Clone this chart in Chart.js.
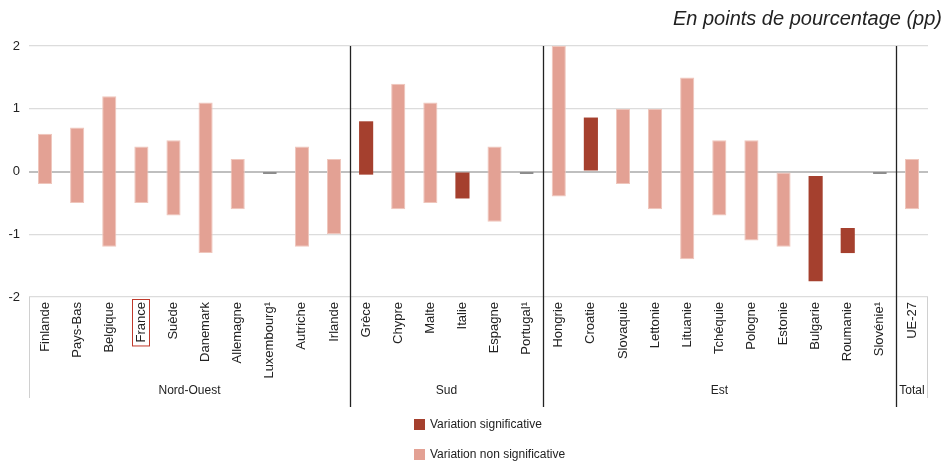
<!DOCTYPE html>
<html>
<head>
<meta charset="utf-8">
<script src="https://cdn.jsdelivr.net/npm/chart.js@4"></script>
<style>
  body { margin: 0; background: #fff; }
  #wrap { width: 946px; height: 463px; }
</style>
</head>
<body>
<div id="wrap"><canvas id="chart"></canvas></div>
<script>
// pays, dans l'ordre du graphique
const categories = ['Finlande', 'Pays-Bas', 'Belgique', 'France', 'Suède', 'Danemark', 'Allemagne', 'Luxembourg¹', 'Autriche', 'Irlande',
  'Grèce', 'Chypre', 'Malte', 'Italie', 'Espagne', 'Portugal¹',
  'Hongrie', 'Croatie', 'Slovaquie', 'Lettonie', 'Lituanie', 'Tchéquie', 'Pologne', 'Estonie', 'Bulgarie', 'Roumanie', 'Slovénie¹',
  'UE-27'];
const groupLabels = ['Nord-Ouest', 'Sud', 'Est', 'Total'];
const groupSizes = [10, 6, 11, 1];

// bornes basse / haute de l'intervalle (pp), null = non disponible
const low  = [-0.2, -0.5, -1.2, -0.5, -0.7, -1.3, -0.6, null, -1.2, -1.0,
  -0.05, -0.6, -0.5, -0.43, -0.8, null,
  -0.4, 0, -0.2, -0.6, -1.4, -0.7, -1.1, -1.2, -1.75, -1.3, null,
  -0.6];
const high = [0.6, 0.7, 1.2, 0.4, 0.5, 1.1, 0.2, null, 0.4, 0.2,
  0.8, 1.4, 1.1, 0, 0.4, null,
  2.0, 0.86, 1.0, 1.0, 1.5, 0.5, 0.5, 0, -0.07, -0.9, null,
  0.2];
const significant = [false, false, false, false, false, false, false, false, false, false,
  true, false, false, true, false, false,
  false, true, false, false, false, false, false, false, true, true, false,
  false];
const yTicks = [-2, -1, 0, 1, 2];

const darkRed = '#a5402e';
const lightRed = '#e3a194';

const sigData = categories.map((c, i) => (high[i] !== null && significant[i]) ? [low[i], high[i]] : null);
const nonSigData = categories.map((c, i) => (high[i] !== null && !significant[i]) ? [low[i], high[i]] : null);
const ndData = categories.map((c, i) => high[i] === null ? [-0.035, 0] : null);

const font = 'Liberation Sans, Arial, sans-serif';

const decorPlugin = {
  id: 'decor',
  afterDraw(chart) {
    const ctx = chart.ctx;
    const x = chart.scales.x;
    const area = chart.chartArea;
    const half = (x.getPixelForValue(1) - x.getPixelForValue(0)) / 2;
    ctx.save();

    // titre
    ctx.font = 'italic 20px ' + font;
    ctx.fillStyle = '#222';
    ctx.textAlign = 'right';
    ctx.textBaseline = 'middle';
    ctx.fillText('En points de pourcentage (pp)', 942, 19);

    // cadre des étiquettes
    ctx.strokeStyle = '#d0d0d0';
    ctx.lineWidth = 1;
    ctx.beginPath();
    ctx.moveTo(area.left + 0.5, area.bottom);
    ctx.lineTo(area.left + 0.5, 398);
    ctx.moveTo(area.right - 0.5, area.bottom);
    ctx.lineTo(area.right - 0.5, 398);
    ctx.stroke();

    // séparateurs et noms des groupes
    let start = 0;
    ctx.font = '12px ' + font;
    ctx.fillStyle = '#222';
    ctx.textAlign = 'center';
    groupSizes.forEach((n, g) => {
      const left = x.getPixelForValue(start) - half;
      const right = x.getPixelForValue(start + n - 1) + half;
      ctx.fillText(groupLabels[g], (left + right) / 2, 391);
      if (g < groupSizes.length - 1) {
        ctx.strokeStyle = '#222';
        ctx.lineWidth = 1.3;
        ctx.beginPath();
        ctx.moveTo(Math.round(right) + 0.5, area.top);
        ctx.lineTo(Math.round(right) + 0.5, 407);
        ctx.stroke();
      }
      start += n;
    });

    // encadré France
    const fi = categories.indexOf('France');
    const fx = x.getPixelForValue(fi);
    ctx.font = '13px ' + font;
    const w = ctx.measureText('France').width;
    ctx.strokeStyle = '#c0392b';
    ctx.lineWidth = 1;
    ctx.strokeRect(Math.round(fx - 9) + 0.5, area.bottom + 2.5, 17, w + 6);

    // légende
    const items = [[darkRed, 'Variation significative', 425], [lightRed, 'Variation non significative', 455]];
    ctx.textAlign = 'left';
    ctx.textBaseline = 'middle';
    items.forEach(([col, txt, y]) => {
      ctx.fillStyle = col;
      ctx.fillRect(414, y - 6, 11, 11);
      ctx.fillStyle = '#222';
      ctx.font = '12px ' + font;
      ctx.fillText(txt, 430, y);
    });
    ctx.restore();
  }
};

new Chart(document.getElementById('chart'), {
  type: 'bar',
  data: {
    labels: categories,
    datasets: [
      { label: 'Variation significative', data: sigData, backgroundColor: darkRed, grouped: false,
        barPercentage: 0.44, categoryPercentage: 1 },
      { label: 'Variation non significative', data: nonSigData, backgroundColor: lightRed, grouped: false,
        borderColor: '#efc6bc', borderWidth: 1, borderSkipped: false,
        barPercentage: 0.44, categoryPercentage: 1 },
      { label: 'nd', data: ndData, backgroundColor: '#5a5a5a', grouped: false,
        barPercentage: 0.42, categoryPercentage: 1 }
    ]
  },
  options: {
    responsive: true,
    maintainAspectRatio: false,
    animation: false,
    layout: { padding: { top: 46, right: 18, left: 0, bottom: 0 } },
    plugins: {
      legend: { display: false },
      tooltip: { enabled: false }
    },
    scales: {
      x: {
        grid: { display: false, drawTicks: false },
        border: { display: false },
        ticks: {
          autoSkip: false,
          minRotation: 90,
          maxRotation: 90,
          padding: 5,
          color: '#222',
          font: { family: font, size: 13 }
        },
        afterFit(scale) { scale.height = 166; }
      },
      y: {
        min: -2,
        max: 2,
        afterBuildTicks(scale) { scale.ticks = yTicks.map(v => ({ value: v })); },
        grid: {
          color: ctx => ctx.tick && ctx.tick.value === 0 ? '#bfbfbf' : '#dcdcdc',
          lineWidth: ctx => ctx.tick && ctx.tick.value === 0 ? 2 : 1.3,
          drawTicks: false
        },
        border: { display: false },
        ticks: {
          padding: 9,
          color: '#222',
          font: { family: font, size: 13 }
        },
        afterFit(scale) { scale.width = 29; }
      }
    }
  },
  plugins: [decorPlugin]
});
</script>
</body>
</html>
